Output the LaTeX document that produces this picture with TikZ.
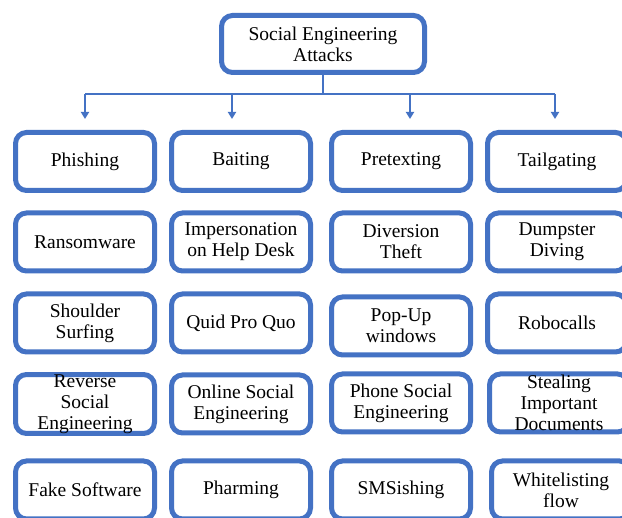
\documentclass[tikz,border=0pt]{standalone}
\usepackage{fontspec}
\setmainfont{Liberation Serif}
\usetikzlibrary{arrows.meta}
\definecolor{boxblue}{HTML}{4472C4}
\begin{document}
\begin{tikzpicture}[x=1pt,y=-1pt,
  box/.style={draw=boxblue, line width=5pt, rounded corners=11pt, minimum width=139pt,
    minimum height=58pt, inner sep=0pt, align=center, fill=white,
    font=\fontsize{19.5}{21}\selectfont},
  link/.style={draw=boxblue, line width=2.5pt},
  tip/.style={link, -{Triangle[length=7pt,width=8pt]}}]
\useasboundingbox (0,0) rectangle (622,518);
\clip (0,0) rectangle (622,518);
\fill[white] (0,0) rectangle (622,518);

% root
\node[box, minimum width=203pt, minimum height=57pt] (root) at (323,44) {Social Engineering\\Attacks};

% row 1
\node[box] (phishing)   at (85,161.5)  {Phishing};
\node[box] (baiting)    at (241,161.5) {Baiting};
\node[box] (pretexting) at (401,161.5) {Pretexting};
\node[box] (tailgating) at (557,161.5) {Tailgating};

% row 2
\node[box] (ransom)    at (85,242)  {Ransomware};
\node[box] (imperson)  at (241,242) {Impersonation\\on Help Desk};
\node[box] (diversion) at (401,242) {Diversion\\Theft};
\node[box] (dumpster)  at (557,242) {Dumpster\\Diving};

% row 3
\node[box] (shoulder) at (85,323)  {Shoulder\\Surfing};
\node[box] (quid)     at (241,323) {Quid Pro Quo};
\node[box] (popup)    at (401,326) {Pop-Up\\windows};
\node[box] (robo)     at (557,323) {Robocalls};

% row 4
\node[box] (reverse)  at (85,404)  {Reverse\\Social\\Engineering};
\node[box] (online)   at (241,404) {Online Social\\Engineering};
\node[box] (phone)    at (401,403) {Phone Social\\Engineering};
\node[box] (stealing) at (559,403) {Stealing\\Important\\Documents};

% row 5
\node[box] (fake)      at (85,490)  {Fake Software};
\node[box] (pharming)  at (241,490) {Pharming};
\node[box] (smsishing) at (401,490) {SMSishing};
\node[box] (white)     at (561,490) {Whitelisting\\flow};

% connectors
\coordinate (hub) at (root.south |- 0,94);
\coordinate (bl) at (85,94);
\coordinate (br) at (555,94);
\coordinate (j1) at (85,94);
\coordinate (j2) at (232,94);
\coordinate (j3) at (410,94);
\coordinate (j4) at (555,94);
\coordinate (t1) at (85,119);
\coordinate (t2) at (232,119);
\coordinate (t3) at (410,119);
\coordinate (t4) at (555,119);
\draw[link] (root.south) -- (hub);
\draw[link] (bl) -- (br);
\draw[tip] (j1) -- (t1);
\draw[tip] (j2) -- (t2);
\draw[tip] (j3) -- (t3);
\draw[tip] (j4) -- (t4);
\end{tikzpicture}
\end{document}
